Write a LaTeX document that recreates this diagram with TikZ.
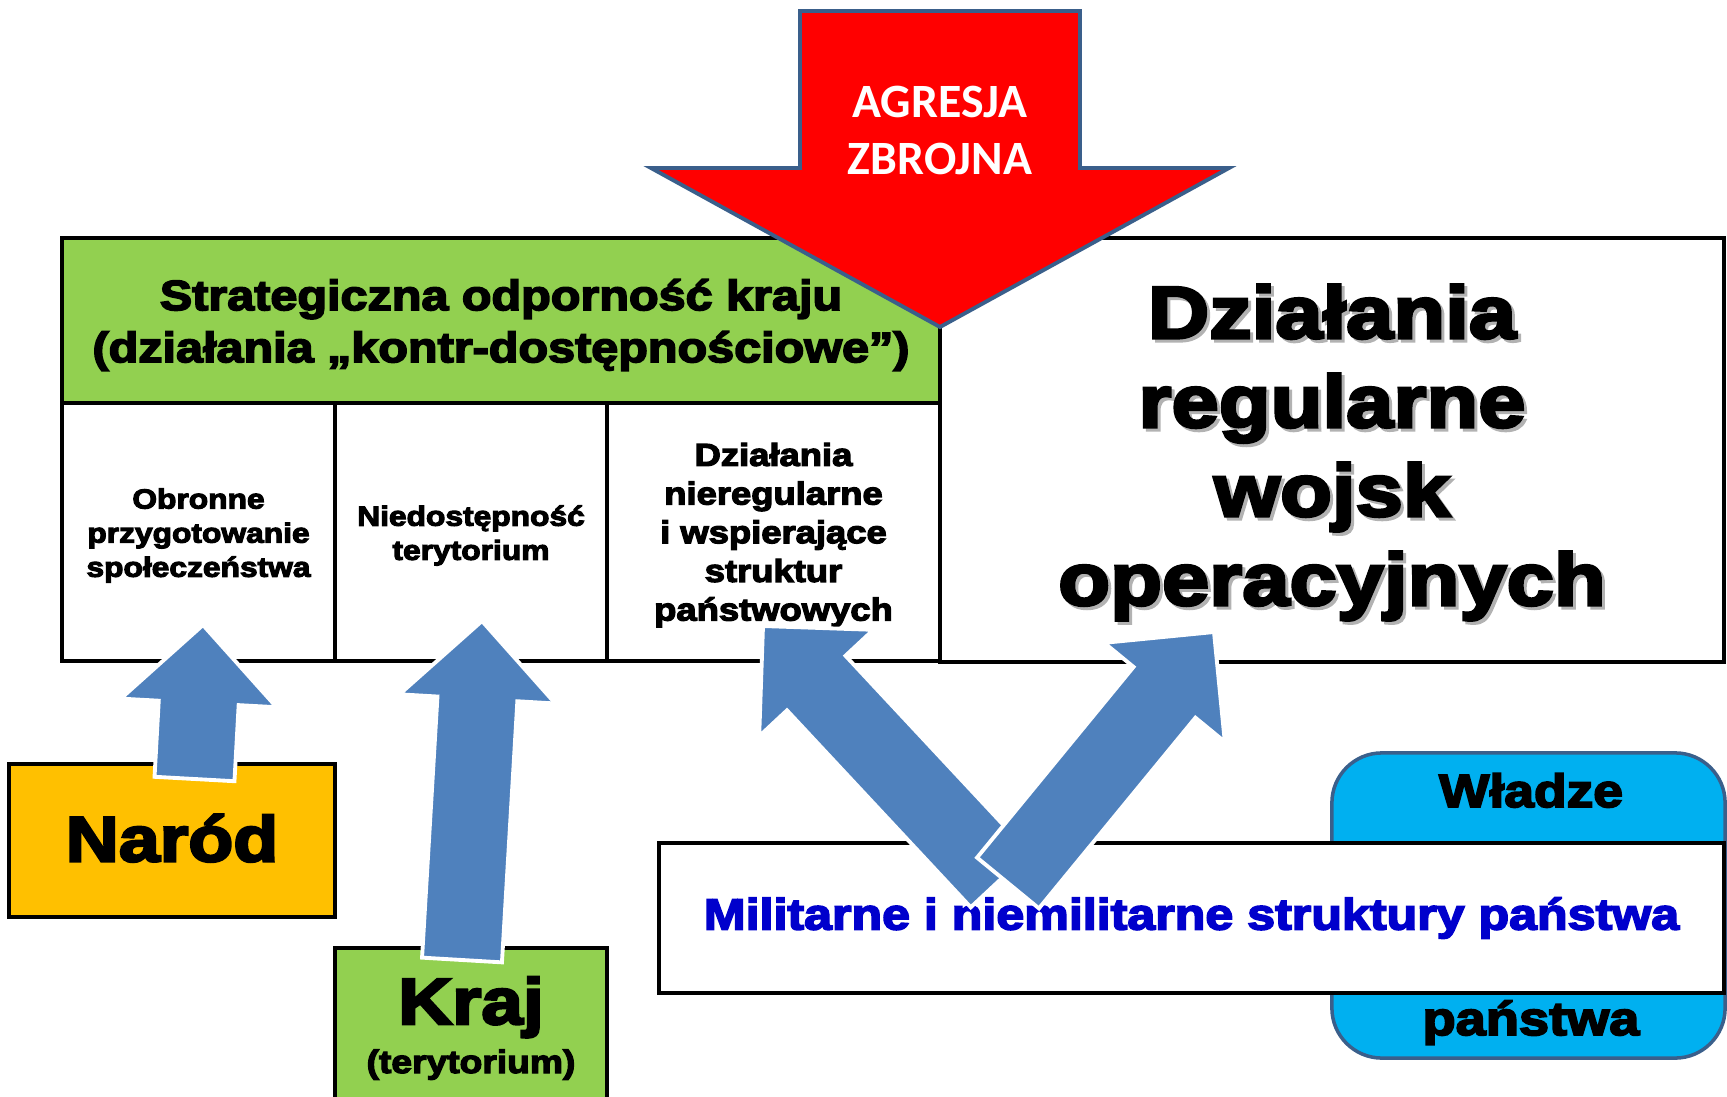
\documentclass[tikz,border=0pt]{standalone}
\usepackage{fontspec}
\usetikzlibrary{calc}
\newfontfamily\heavy{Liberation Sans}[BoldFeatures={FakeBold=4,FakeStretch=1.15}]
\newfontfamily\calib{Carlito}
\newcommand\hv{\heavy\bfseries}
\definecolor{pgreen}{HTML}{92D050}
\definecolor{porange}{HTML}{FFC000}
\definecolor{pcyan}{HTML}{00B0F0}
\definecolor{pblue}{HTML}{4F81BD}
\definecolor{pred}{HTML}{FF0000}
\definecolor{pedge}{HTML}{3A5F8B}
\definecolor{ptext}{HTML}{0000CC}
\tikzset{
  box/.style={draw=black, line width=1.15pt, rectangle, inner sep=0pt, align=center},
  barrowstyle/.style={fill=pblue, draw=white, line width=1.1pt, line join=miter},
  txt/.style={inner sep=0pt, align=center},
}
\newcommand\blockarrow[3]{%
  \coordinate (#1-h) at ($(#3)!0.78cm!(#2)$);
  \filldraw[barrowstyle] ($(#2)!0.4cm!90:(#3)$) -- ($(#1-h)!0.4cm!-90:(#2)$) -- ($(#1-h)!0.78cm!-90:(#2)$) -- (#3) -- ($(#1-h)!0.78cm!90:(#2)$) -- ($(#1-h)!0.4cm!90:(#2)$) -- ($(#2)!0.4cm!-90:(#3)$) -- cycle;
}
\begin{document}
\begin{tikzpicture}[x=0.01cm,y=-0.01cm]
\useasboundingbox (0,0) rectangle (1727,1097);
\clip (0,0) rectangle (1727,1097);

% Wladze panstwa (behind)
\node[draw=pedge, line width=1pt, fill=pcyan, rounded corners=0.5cm, minimum width=3.93cm, minimum height=3.05cm, inner sep=0pt] (wl) at (1528.5,905.5) {};
\node[txt, anchor=base, font={\hv\fontsize{13.2pt}{16pt}\selectfont}] (wlt) at (1531,807) {Władze};
\node[txt, anchor=base, font={\hv\fontsize{13.4pt}{16pt}\selectfont}] (wlb) at (1531,1035) {państwa};

% Militarne i niemilitarne
\node[box, fill=white, minimum width=10.65cm, minimum height=1.5cm, text=ptext, font={\hv\fontsize{12.4pt}{14pt}\selectfont}] (mil) at (1191.5,918) {\raisebox{-2pt}{Militarne i niemilitarne struktury państwa}};

% Header and cells
\node[box, fill=pgreen, minimum width=8.78cm, minimum height=1.65cm] (hdr) at (501,320.5) {};
\node[txt, font={\hv\fontsize{12pt}{14.8pt}\selectfont}] (hdrt) at (501,325) {Strategiczna odporność kraju\\(działania „kontr-dostępnościowe”)};
\node[box, minimum width=2.73cm, minimum height=2.58cm] (c1) at (198.5,532) {};
\node[box, minimum width=2.72cm, minimum height=2.58cm] (c2) at (471,532) {};
\node[box, minimum width=3.33cm, minimum height=2.58cm] (c3) at (773.5,532) {};
\node[txt, font={\hv\fontsize{7.85pt}{9.7pt}\selectfont}] (c1t) at (198.5,535.5) {Obronne\\przygotowanie\\społeczeństwa};
\node[txt, font={\hv\fontsize{7.85pt}{9.7pt}\selectfont}] (c2t) at (471,535.5) {Niedostępność\\terytorium};
\node[txt, font={\hv\fontsize{9pt}{11pt}\selectfont}] (c3t) at (773.5,535) {Działania\\nieregularne\\i wspierające\\struktur\\państwowych};

% Right box with shadowed text
\node[box, minimum width=7.84cm, minimum height=4.23cm] (rb) at (1332,450) {};
\node[txt, text=black!30, font={\hv\fontsize{21pt}{25.3pt}\selectfont}] (rbs) at (1335,455.5) {Działania\\regularne\\wojsk\\operacyjnych};
\node[txt, font={\hv\fontsize{21pt}{25.3pt}\selectfont}] (rbt) at (1332,452.5) {Działania\\regularne\\wojsk\\operacyjnych};

% Narod and Kraj
\node[box, fill=porange, minimum width=3.26cm, minimum height=1.53cm, font={\hv\fontsize{18.2pt}{20pt}\selectfont}] (narod) at (172,840.5) {\raisebox{1.5pt}{Naród}};
\node[box, fill=pgreen, minimum width=2.72cm, minimum height=1.8cm] (kraj) at (471,1038) {};
\node[txt, anchor=base, font={\hv\fontsize{18.5pt}{20pt}\selectfont}] (krajt) at (471,1024) {Kraj};
\node[txt, anchor=base, font={\hv\fontsize{9.2pt}{10pt}\selectfont}] (krajs) at (471,1073) {(terytorium)};

% Blue block arrows
\coordinate (a1t) at (194.5,779); \coordinate (a1p) at (203,625);
\coordinate (a2t) at (462,960);   \coordinate (a2p) at (482,621);
\coordinate (a3t) at (1000,880);  \coordinate (a3p) at (763,626);
\coordinate (a4t) at (1008,883);  \coordinate (a4p) at (1214,632);
\blockarrow{a1}{a1t}{a1p}
\blockarrow{a2}{a2t}{a2p}
\blockarrow{a3}{a3t}{a3p}
\blockarrow{a4}{a4t}{a4p}

% Red arrow
\filldraw[fill=pred, draw=pedge, line width=1.1pt, line join=miter] (800,11) coordinate (rtl) -- (1080,11) -- (1080,168) -- (1229,168) -- (940,327) coordinate (rtip) -- (651,168) -- (800,168) -- cycle;
\node[txt, text=white, font={\calib\bfseries\fontsize{13.6pt}{16.2pt}\selectfont}] (agr) at (940,130) {AGRESJA\\ZBROJNA};
\end{tikzpicture}
\end{document}
